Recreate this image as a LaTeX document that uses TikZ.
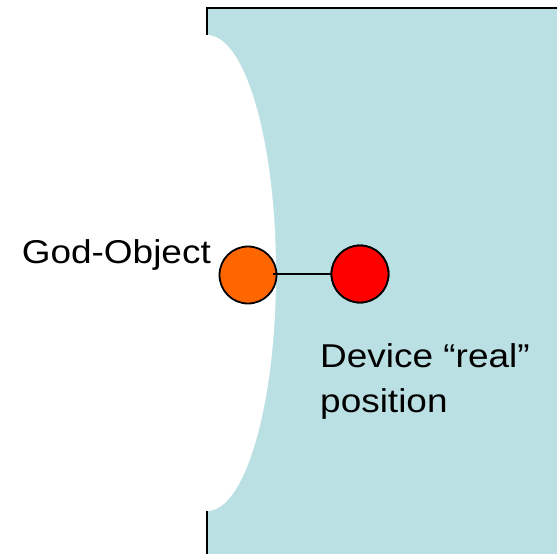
\documentclass[tikz,border=0pt]{standalone}
\usepackage{fontspec}
\setmainfont{Liberation Sans}
\definecolor{bgblue}{RGB}{187,224,227}
\definecolor{godorange}{RGB}{255,102,0}
\definecolor{devred}{RGB}{255,0,0}
\tikzset{
  ball/.style={circle, draw=black, line width=1.8pt, minimum size=57pt, inner sep=0pt},
  lbl/.style={inner sep=0pt, font=\fontsize{33}{45}\selectfont},
}
\begin{document}
\begin{tikzpicture}[x=1pt,y=-1pt]
\useasboundingbox (0,0) rectangle (557,554);
\begin{scope}
\clip (0,0) rectangle (557,554);
\fill[bgblue] (207,8) rectangle (570,570);
\draw[line width=2.6pt] (207,570) -- (207,8) -- (570,8);
\fill[white] (207,273) ellipse [x radius=69, y radius=238];
\end{scope}
\node[ball, fill=godorange] (god) at (248,275) {};
\node[ball, fill=devred] (dev) at (360,274) {};
\path (god.center) ++(25,-1) coordinate (gs);
\draw[line width=2.4pt] (gs) -- (dev.west);
\node[ball, fill=devred] at (dev) {};
\node[lbl, anchor=base east] (godlbl) at (211,263) {\scalebox{1.12}[1]{God-Object}};
\node[lbl, anchor=base west, align=left] (devlbl) at (320,412) {\scalebox{1.12}[1]{Device “real”}\\\scalebox{1.12}[1]{position}};
\end{tikzpicture}
\end{document}
